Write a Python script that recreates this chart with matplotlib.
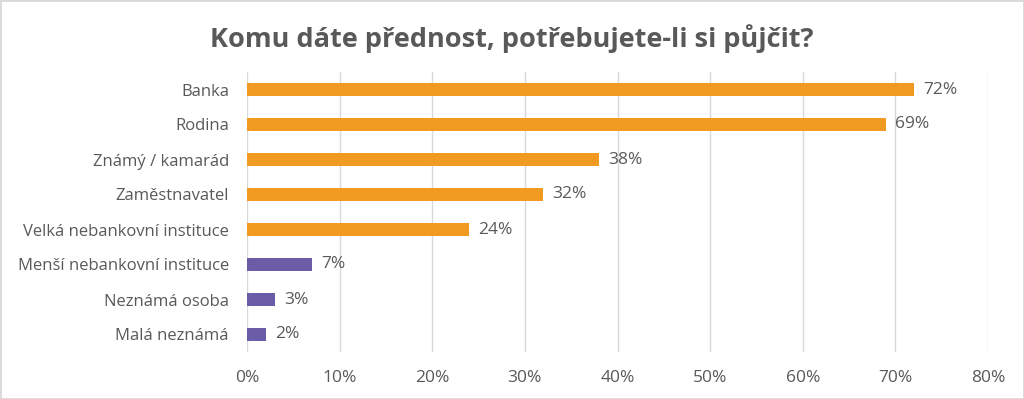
import matplotlib.pyplot as plt
from matplotlib.ticker import FuncFormatter
from matplotlib.patches import Rectangle

categories = ['Banka', 'Rodina', 'Známý / kamarád', 'Zaměstnavatel',
              'Velká nebankovní instituce', 'Menší nebankovní instituce',
              'Neznámá osoba', 'Malá neznámá']
values = [72, 69, 38, 32, 24, 7, 3, 2]
groups = ['a', 'a', 'a', 'a', 'a', 'b', 'b', 'b']

colors = {'a': '#F09A22', 'b': '#6A5CA6'}
txt = '#595959'

plt.rcParams['font.family'] = ['Open Sans', 'DejaVu Sans']

fig = plt.figure(figsize=(10.24, 3.99), dpi=100)
ax = fig.add_axes([247 / 1024, 1 - 352 / 399, (988 - 247) / 1024, 280 / 399])

y = list(range(len(categories)))
ax.barh(y, values, height=0.36, color=[colors[g] for g in groups], zorder=3)
for yi, v in zip(y, values):
    ax.text(v + 1.0, yi, f'{v}%', va='center', ha='left', fontsize=12.5, color=txt)

ax.set_xlim(0, 80)
ax.set_ylim(len(categories) - 0.5, -0.5)
ax.set_xticks(range(0, 81, 10))
ax.xaxis.set_major_formatter(FuncFormatter(lambda x, p: f'{x:.0f}%'))
ax.set_yticks(y)
ax.set_yticklabels(categories)
ax.tick_params(axis='both', length=0, colors=txt)
ax.tick_params(axis='x', pad=13, labelsize=12.5)
ax.tick_params(axis='y', pad=13, labelsize=12)
ax.grid(axis='x', color='#D9D9D9', linewidth=1, zorder=0)
for s in ax.spines.values():
    s.set_visible(False)

fig.suptitle('Komu dáte přednost, potřebujete-li si půjčit?', y=0.94,
             fontsize=19.5, fontweight='bold', color=txt)
fig.patches.append(Rectangle((0, 0), 1, 1, transform=fig.transFigure,
                             fill=False, edgecolor='#D9D9D9', linewidth=2))

fig.savefig('out.png', dpi=100)
